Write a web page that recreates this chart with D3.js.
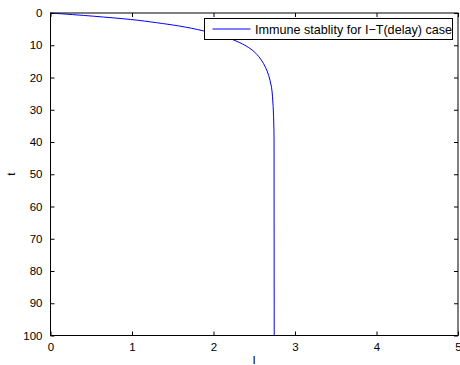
<!DOCTYPE html>
<html>
<head>
<meta charset="utf-8">
<script src="https://cdn.jsdelivr.net/npm/d3@7"></script>
<style>
  body { margin: 0; background: #fff; }
  svg { display: block; font-family: "Liberation Sans", Arial, sans-serif; }
</style>
</head>
<body>
<svg id="display" width="460" height="365"></svg>
<script>
'use strict';
// data
var tValues = [0, 1, 2, 3, 4, 5.5, 7, 8.4, 10, 11.5, 13.5, 15.6, 18, 20.8, 23, 26, 32, 40, 100];
var iValues = [0, 0.53, 0.98, 1.3, 1.57, 1.87, 2.09, 2.25, 2.385, 2.475, 2.555, 2.612, 2.658, 2.693, 2.712, 2.724, 2.737, 2.743, 2.745];
var xTicks = [0, 1, 2, 3, 4, 5];
var yTicks = [0, 10, 20, 30, 40, 50, 60, 70, 80, 90, 100];
var legendLabel = 'Immune stablity for I\u2212T(delay) case';

var MARGINS = { top: 13, right: 2, bottom: 29.5, left: 50.5 };
var WIDTH = 460;
var HEIGHT = 365;

var svg = d3.select('#display');

var x = d3.scaleLinear().domain([0, 5]).range([MARGINS.left, WIDTH - MARGINS.right]);
var y = d3.scaleLinear().domain([0, 100]).range([MARGINS.top, HEIGHT - MARGINS.bottom]);

var points = tValues.map(function(t, i) { return { t: t, v: iValues[i] }; });

var line = d3.line()
  .x(function(d) { return x(d.v); })
  .y(function(d) { return y(d.t); })
  .curve(d3.curveMonotoneY);

svg.append('path')
  .datum(points)
  .attr('d', line)
  .attr('fill', 'none')
  .attr('stroke', '#0000ff')
  .attr('stroke-width', 1);

// axes: ticks inward on all four sides
function styleAxis(g) {
  g.selectAll('.domain').remove();
  g.selectAll('line').attr('stroke', '#000');
  g.selectAll('text').attr('font-size', 11.5).attr('fill', '#000');
}

svg.append('g')
  .attr('transform', 'translate(0,' + y(100) + ')')
  .call(d3.axisBottom(x).tickValues(xTicks).tickSize(-4).tickPadding(7).tickFormat(d3.format('d')))
  .call(styleAxis);

svg.append('g')
  .attr('transform', 'translate(0,' + y(0) + ')')
  .call(d3.axisTop(x).tickValues(xTicks).tickSize(-4).tickFormat(''))
  .call(styleAxis);

svg.append('g')
  .attr('transform', 'translate(' + x(0) + ',0)')
  .call(d3.axisLeft(y).tickValues(yTicks).tickSize(-4).tickPadding(8).tickFormat(d3.format('d')))
  .call(styleAxis);

svg.append('g')
  .attr('transform', 'translate(' + x(5) + ',0)')
  .call(d3.axisRight(y).tickValues(yTicks).tickSize(-4).tickFormat(''))
  .call(styleAxis);

svg.append('rect')
  .attr('x', x(0))
  .attr('y', y(0))
  .attr('width', x(5) - x(0))
  .attr('height', y(100) - y(0))
  .attr('fill', 'none')
  .attr('stroke', '#000')
  .attr('stroke-width', 1);

// axis titles
svg.append('text')
  .attr('x', 254)
  .attr('y', 364)
  .attr('text-anchor', 'middle')
  .attr('font-size', 11.5)
  .text('I');

svg.append('text')
  .attr('transform', 'translate(15,' + y(50) + ') rotate(-90)')
  .attr('text-anchor', 'middle')
  .attr('font-size', 11.5)
  .text('t');

// legend
var legend = svg.append('g').attr('transform', 'translate(204.5,18.5)');
legend.append('rect')
  .attr('width', 248)
  .attr('height', 21)
  .attr('fill', '#fff')
  .attr('stroke', '#000');
legend.append('line')
  .attr('x1', 8).attr('x2', 46)
  .attr('y1', 10.5).attr('y2', 10.5)
  .attr('stroke', '#0000ff');
legend.append('text')
  .attr('x', 50.5)
  .attr('y', 15)
  .attr('font-size', 12.6)
  .text(legendLabel);
</script>
</body>
</html>
